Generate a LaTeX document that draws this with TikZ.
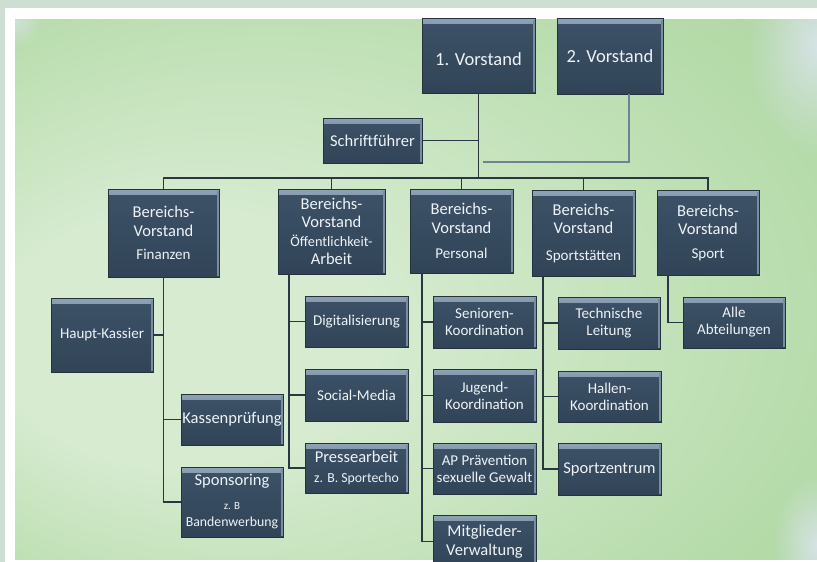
\documentclass[tikz,border=0pt]{standalone}
\usepackage{fontspec}
\setmainfont{Carlito}
\usetikzlibrary{calc,fadings,shadows}
\definecolor{outerbg}{HTML}{CFDED2}
\definecolor{gIn}{HTML}{D6EBD0}
\definecolor{gMid}{HTML}{BBDEB0}
\definecolor{gOut}{HTML}{9FCF90}
\definecolor{blobcol}{HTML}{D6E3E6}
\definecolor{boxfill}{HTML}{364A5F}
\definecolor{boxtop}{HTML}{3D5268}
\definecolor{boxbot}{HTML}{314457}
\definecolor{boxedge}{HTML}{25313C}
\definecolor{bevel}{HTML}{8FA3B6}
\definecolor{boxtext}{HTML}{EEF3F7}
\definecolor{linecol}{HTML}{2A3742}
\definecolor{line2col}{HTML}{6A8494}
\pgfdeclareradialshading{bggreen}{\pgfpoint{-19bp}{-6bp}}{color(0bp)=(gIn); color(12bp)=(gIn); color(30bp)=(gMid); color(50bp)=(gOut)}
\tikzfading[name=blobfade, inner color=transparent!0, outer color=transparent!100]
\newcommand\FontA{\fontsize{16.5}{18.5}\selectfont}
\newcommand\FontB{\fontsize{15}{17}\selectfont}
\newcommand\FontC{\fontsize{13.8}{16}\selectfont}
\newcommand\FontD{\fontsize{18.5}{21}\selectfont}
\newcommand\FontE{\fontsize{11}{13}\selectfont}
\newcommand\FontF{\fontsize{14.3}{19}\selectfont}
\tikzset{
  bx/.style={draw=boxedge, line width=0.5pt, top color=boxtop, bottom color=boxbot,
    text=boxtext, align=center, inner sep=0pt, font=\FontA,
    drop shadow={shadow xshift=1.3pt, shadow yshift=-1.3pt, opacity=0.35},
    path picture={
      \shade[top color=bevel, bottom color=boxtop]
        ([xshift=0.4pt,yshift=-0.4pt]path picture bounding box.north west) rectangle
        ([xshift=-0.4pt,yshift=-5pt]path picture bounding box.north east);
      \fill[bevel!75!boxfill]
        ([xshift=-2pt,yshift=-2pt]path picture bounding box.north east) rectangle
        ([xshift=-0.4pt,yshift=1pt]path picture bounding box.south east);
    }},
  bxsize/.style 2 args={minimum width=#1pt, minimum height=#2pt},
  ln/.style={draw=linecol, line width=1.7pt},
  ln2/.style={draw=line2col, line width=1.1pt},
}
\begin{document}
\begin{tikzpicture}[x=1pt,y=-1pt]
\useasboundingbox (0,0) rectangle (817,562);
\begin{scope}
\clip (0,0) rectangle (817,562);
% background
\fill[outerbg] (0,0) rectangle (817,562);
\fill[white] (5,8) rectangle (817,562);
\shade[shading=bggreen] (15,19) rectangle (817,559);
\begin{scope}
\clip (15,19) rectangle (817,559);
\fill[blobcol, path fading=blobfade] (817,45) ellipse [x radius=70pt, y radius=110pt];
\fill[blobcol, path fading=blobfade, opacity=0.7] (17,22) ellipse [x radius=25pt, y radius=25pt];
\fill[blobcol, path fading=blobfade] (817,545) ellipse [x radius=45pt, y radius=70pt];
\end{scope}

% top level
\node[bx,bxsize={113}{75},font=\FontD] (v1) at (478.5,55.5) {\raisebox{-4pt}[\height][\depth]{1. Vorstand}};
\node[bx,bxsize={106}{76},font=\FontD] (v2) at (610,56) {2. Vorstand};
\node[bx,bxsize={99}{45}] (sf) at (372.5,140.5) {Schriftführer};

% Bereichsvorstände
\node[bx,bxsize={111}{88}] (bf) at (163.5,233) {Bereichs-\\Vorstand\\[5pt]\FontB Finanzen};
\node[bx,bxsize={107}{85}] (bo) at (331.5,231.5) {Bereichs-\\Vorstand\\\FontF Öffentlichkeit-\\Arbeit};
\node[bx,bxsize={103}{84}] (bp) at (461.5,231) {Bereichs-\\Vorstand\\[7pt]\FontB Personal};
\node[bx,bxsize={103}{86}] (bs) at (583.5,233) {Bereichs-\\Vorstand\\[8pt]\FontB Sportstätten};
\node[bx,bxsize={102}{85}] (bsp) at (708,232.5) {Bereichs-\\Vorstand\\[5pt]\FontB Sport};

% Finanzen
\node[bx,bxsize={102}{74},font=\FontB] (hk) at (102,335) {Haupt-Kassier};
\node[bx,bxsize={102}{51}] (kp) at (232,419.5) {Kassenprüfung};
\node[bx,bxsize={102}{70}] (spo) at (232,502) {Sponsoring\\[5pt]\FontE z. B\\[-1pt]\FontC Bandenwerbung};

% Öffentlichkeitsarbeit
\node[bx,bxsize={103}{51},font=\FontB] (dig) at (356.5,321.5) {Digitalisierung};
\node[bx,bxsize={103}{52},font=\FontB] (sm) at (356.5,395) {Social-Media};
\node[bx,bxsize={103}{50}] (pa) at (356.5,468) {Pressearbeit\\[2pt]\FontC z. B. Sportecho};

% Personal
\node[bx,bxsize={103}{52},font=\FontB] (sen) at (484.5,322) {Senioren-\\Koordination};
\node[bx,bxsize={103}{53},font=\FontB] (jug) at (484.5,395.5) {Jugend-\\Koordination};
\node[bx,bxsize={103}{51},font=\FontB] (ap) at (484.5,468.5) {AP Prävention\\sexuelle Gewalt};
\node[bx,bxsize={103}{53}] (mit) at (484.5,541.5) {Mitglieder-\\Verwaltung};

% Sportstätten
\node[bx,bxsize={102}{52},font=\FontB] (tl) at (609,323) {Technische\\Leitung};
\node[bx,bxsize={103}{51},font=\FontB] (hal) at (609.5,396.5) {Hallen-\\Koordination};
\node[bx,bxsize={103}{52}] (szt) at (609.5,469) {Sportzentrum};

% Sport
\node[bx,bxsize={102}{51},font=\FontB] (alle) at (734,322.5) {Alle\\Abteilungen};

% connectors
\coordinate (bus) at (478.5,178);
\coordinate (v2e) at (483,162);
\draw[ln] (v1.south) -- (bus);
\draw[ln] (sf.east) -- (sf.east -| bus);
\draw[ln2] ($(v2.south)+(19,0)$) |- (v2e);
\draw[ln] (bf.north) |- (bus) -| (bsp.north);
\draw[ln] (bo.north) -- (bo.north |- bus);
\draw[ln] (bp.north) -- (bp.north |- bus);
\draw[ln] (bs.north) -- (bs.north |- bus);

\draw[ln] (bf.south) |- (spo.west);
\draw[ln] (hk.east) -- (hk.east -| bf.south);
\draw[ln] (kp.west) -- (kp.west -| bf.south);

\coordinate (ot) at ($(bo.south west)+(11,0)$);
\draw[ln] (ot) |- (pa.west);
\draw[ln] (dig.west) -- (dig.west -| ot);
\draw[ln] (sm.west) -- (sm.west -| ot);

\coordinate (pt) at ($(bp.south west)+(12,0)$);
\draw[ln] (pt) |- (mit.west);
\draw[ln] (sen.west) -- (sen.west -| pt);
\draw[ln] (jug.west) -- (jug.west -| pt);
\draw[ln] (ap.west) -- (ap.west -| pt);

\coordinate (st) at ($(bs.south west)+(11,0)$);
\draw[ln] (st) |- (szt.west);
\draw[ln] (tl.west) -- (tl.west -| st);
\draw[ln] (hal.west) -- (hal.west -| st);

\coordinate (spt) at ($(bsp.south west)+(11,0)$);
\draw[ln] (spt) |- (alle.west);
\end{scope}
\end{tikzpicture}
\end{document}
